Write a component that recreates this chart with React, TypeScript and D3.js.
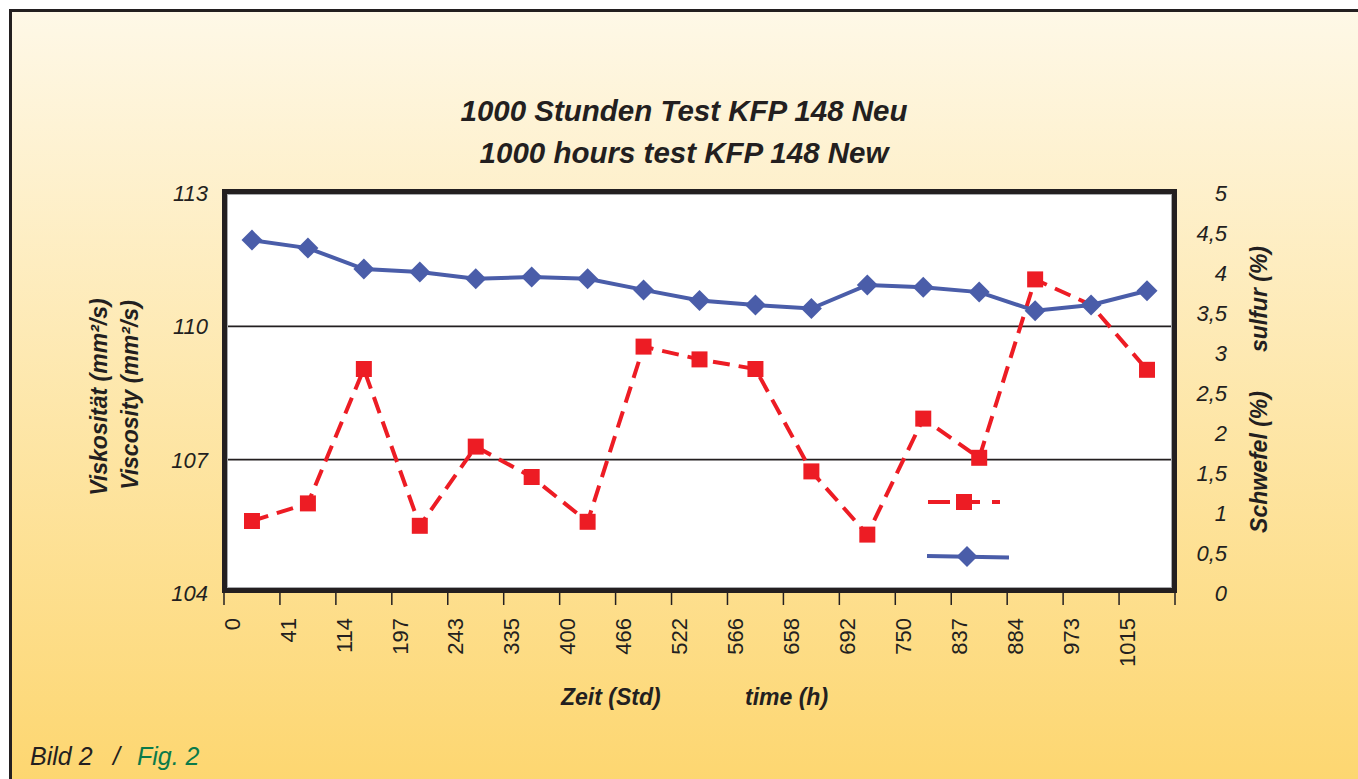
import React from "react";
import * as d3 from "d3";

// hours (x categories), viscosity (left axis), sulfur (right axis)
const hours = ["0", "41", "114", "197", "243", "335", "400", "466", "522", "566", "658", "692", "750", "837", "884", "973", "1015"];
const viscosity = [111.94, 111.76, 111.29, 111.22, 111.07, 111.11, 111.07, 110.82, 110.58, 110.48, 110.4, 110.93, 110.88, 110.77, 110.35, 110.48, 110.8];
const sulfur = [0.9, 1.12, 2.8, 0.84, 1.83, 1.45, 0.89, 3.08, 2.92, 2.8, 1.52, 0.73, 2.18, 1.69, 3.92, 3.6, 2.79];
// sulfur marker hidden under the viscosity marker in the original
const hiddenSulfurMarkers = ["973"];
const leftTicks = [104, 107, 110, 113];
const rightTicks = [0, 0.5, 1, 1.5, 2, 2.5, 3, 3.5, 4, 4.5, 5];
const gridValues = [107, 110];

const W = 1358;
const H = 779;
const FONT = "'Liberation Sans', Arial, sans-serif";
const INK = "#231F20";
const BLUE = "#4A5DA9";
const RED = "#ED1C24";

export default function App() {
  const x = d3.scaleBand<string>().domain(hours).range([224, 1175]);
  const yL = d3.scaleLinear().domain([104, 113]).range([593, 193]);
  const yR = d3.scaleLinear().domain([0, 5]).range([593, 193]);
  const cx = (h: string) => (x(h) as number) + x.bandwidth() / 2;

  const blueLine = d3.line<number>().x((_, i) => cx(hours[i])).y((d) => yL(d));
  const redLine = d3.line<number>().x((_, i) => cx(hours[i])).y((d) => yR(d));
  const diamond = d3.symbol().type(d3.symbolSquare).size(220)() as string;
  const square = d3.symbol().type(d3.symbolSquare).size(256)() as string;

  const tickXs = hours.map((h) => x(h) as number).concat([1175]);
  const fmt = (v: number) => String(v).replace(".", ",");

  return (
    <svg width={W} height={H} style={{ position: "absolute", left: 0, top: 0, display: "block" }} fontFamily={FONT}>
      <defs>
        <linearGradient id="bg" x1="0" y1="0" x2="0" y2="1">
          <stop offset="0" stopColor="#FEF8E7" />
          <stop offset="1" stopColor="#FDD66F" />
        </linearGradient>
      </defs>
      <rect width={W} height={H} fill="#fff" />
      <rect x={10.5} y={10.5} width={W} height={H} fill="url(#bg)" stroke={INK} strokeWidth={3} />

      {/* title */}
      <g fontWeight="bold" fontStyle="italic" fontSize={29.5} fill={INK} textAnchor="middle">
        <text x={684} y={121}>1000 Stunden Test KFP 148 Neu</text>
        <text x={684} y={163}>1000 hours test KFP 148 New</text>
      </g>

      {/* plot area */}
      <rect x={224.5} y={191.5} width={950} height={399} fill="#fff" />
      {gridValues.map((v) => (
        <line key={v} x1={227} x2={1172} y1={yL(v)} y2={yL(v)} stroke={INK} strokeWidth={1.6} />
      ))}

      <path d={redLine(sulfur) as string} fill="none" stroke={RED} strokeWidth={4} strokeDasharray="17,9" />
      {sulfur.map((v, i) =>
        hiddenSulfurMarkers.includes(hours[i]) ? null : (
          <path key={i} d={square} transform={`translate(${cx(hours[i])},${yR(v)})`} fill={RED} />
        )
      )}
      <path d={blueLine(viscosity) as string} fill="none" stroke={BLUE} strokeWidth={4} />
      {viscosity.map((v, i) => (
        <path key={i} d={diamond} transform={`translate(${cx(hours[i])},${yL(v)}) rotate(45)`} fill={BLUE} />
      ))}

      {/* legend */}
      <g>
        <line x1={928} x2={1000} y1={502} y2={502} stroke={RED} strokeWidth={4} strokeDasharray="22,6,24,12,8" />
        <path d={square} transform="translate(964,502)" fill={RED} />
        <line x1={927} x2={1009} y1={556} y2={557.5} stroke={BLUE} strokeWidth={4} />
        <path d={diamond} transform="translate(967,556.5) rotate(45)" fill={BLUE} />
      </g>

      <rect x={227.5} y={194.5} width={944} height={393} fill="none" stroke="#A7A9AC" strokeWidth={1} />
      <rect x={224.5} y={191.5} width={950} height={399} fill="none" stroke={INK} strokeWidth={5} />

      {/* x axis */}
      {tickXs.map((t, i) => (
        <line key={i} x1={t} x2={t} y1={593} y2={605} stroke={INK} strokeWidth={1.5} />
      ))}
      <g fontSize={22} fill={INK} textAnchor="end">
        {hours.map((h) => (
          <text key={h} transform={`translate(${(x(h) as number) + 8},618) rotate(-90)`} dy="0.35em">
            {h}
          </text>
        ))}
      </g>
      <g fontWeight="bold" fontStyle="italic" fontSize={23} fill={INK}>
        <text x={561} y={705}>Zeit (Std)</text>
        <text x={745} y={705}>time (h)</text>
      </g>

      {/* left axis */}
      <g fontSize={22} fontStyle="italic" fill={INK} textAnchor="end">
        {leftTicks.map((v) => (
          <text key={v} x={208} y={yL(v)} dy="0.36em">
            {v}
          </text>
        ))}
      </g>
      <g fontWeight="bold" fontStyle="italic" fontSize={23} fill={INK} textAnchor="middle">
        <text transform="translate(107,397) rotate(-90)">Viskosität (mm²/s)</text>
        <text transform="translate(138,395) rotate(-90)">Viscosity (mm²/s)</text>
      </g>

      {/* right axis */}
      <g fontSize={22} fontStyle="italic" fill={INK} textAnchor="end">
        {rightTicks.map((v) => (
          <text key={v} x={1227} y={yR(v)} dy="0.36em">
            {fmt(v)}
          </text>
        ))}
      </g>
      <g fontWeight="bold" fontStyle="italic" fontSize={23} fill={INK} textAnchor="middle">
        <text transform="translate(1267,462) rotate(-90)">Schwefel (%)</text>
        <text transform="translate(1267,299) rotate(-90)">sulfur (%)</text>
      </g>

      {/* caption */}
      <g fontSize={25} fontStyle="italic">
        <text x={30} y={765} fill={INK}>Bild 2</text>
        <text x={113} y={765} fill={INK}>/</text>
        <text x={137} y={765} fill="#0A7A4A">Fig. 2</text>
      </g>
    </svg>
  );
}
